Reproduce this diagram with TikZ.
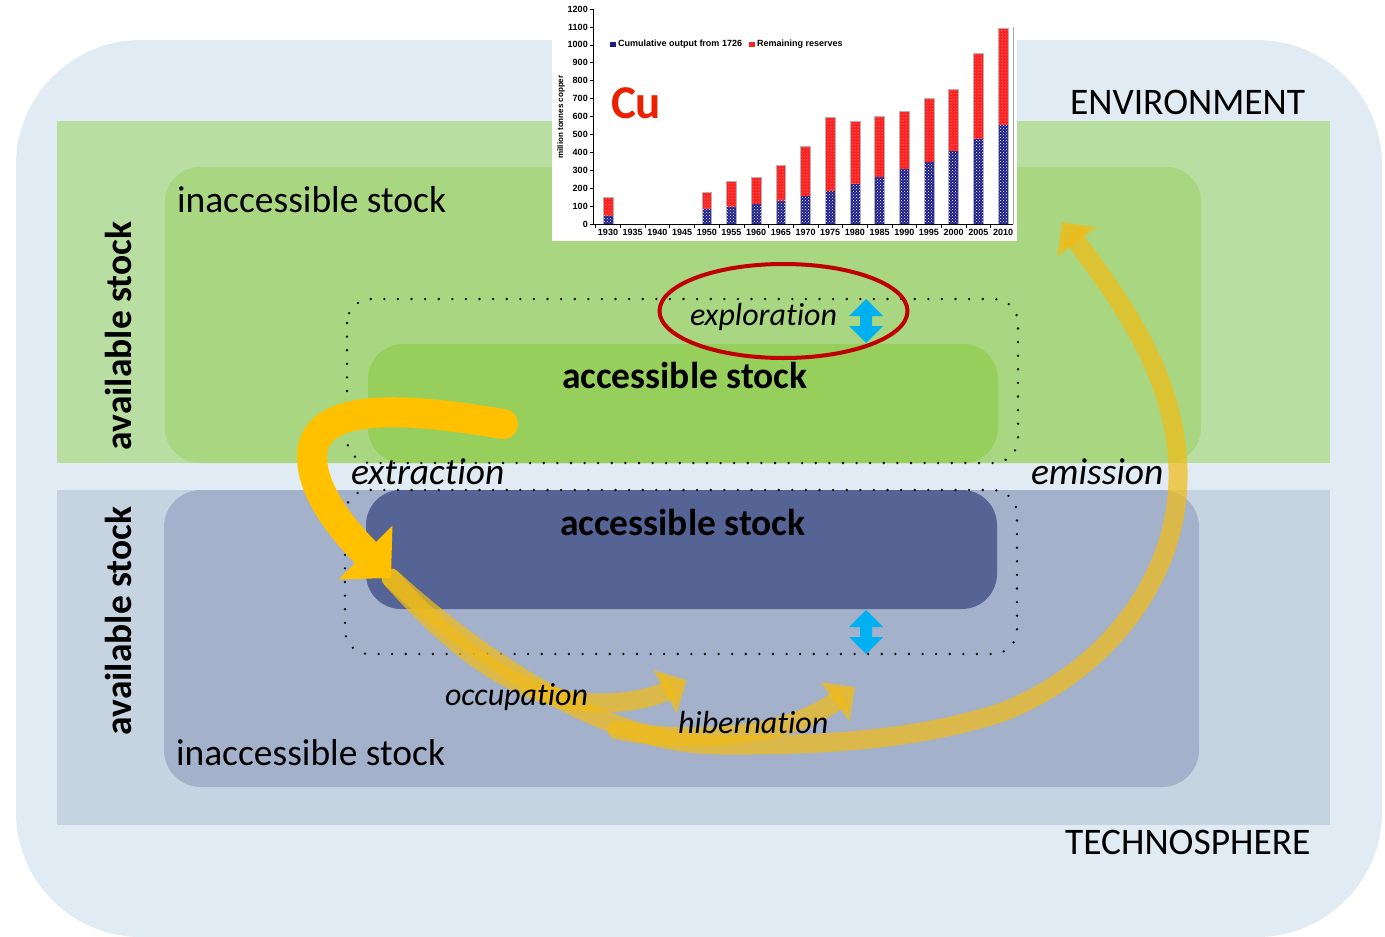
\documentclass[tikz,border=0pt]{standalone}
\usepackage{fontspec}
\setmainfont{Carlito}[Ligatures={NoCommon}]
\newfontfamily\chartfont{Liberation Sans}
\usetikzlibrary{arrows.meta,patterns,shapes.geometric}

\definecolor{skyback}{RGB}{224,235,243}
\definecolor{envband}{RGB}{185,222,161}
\definecolor{envinacc}{RGB}{169,214,128}
\definecolor{envacc}{RGB}{150,207,92}
\definecolor{techband}{RGB}{198,211,225}
\definecolor{techinacc}{RGB}{163,177,203}
\definecolor{techacc}{RGB}{85,100,149}
\definecolor{flowgold}{RGB}{255,192,0}
\definecolor{flowpale}{RGB}{240,188,24}
\definecolor{ringred}{RGB}{192,0,0}
\definecolor{arrowcyan}{RGB}{0,176,240}
\definecolor{cumblue}{RGB}{28,28,140}
\definecolor{resred}{RGB}{255,32,32}
\definecolor{cured}{RGB}{235,32,0}

\begin{document}
\begin{tikzpicture}
	[
	x=1pt, y=-1pt,
	every node/.style={inner sep=0pt, outer sep=0pt},
	big/.style={font=\fontsize{37.5}{40}\selectfont},
	bigbold/.style={font=\fontsize{37.5}{40}\selectfont\bfseries},
	flowlbl/.style={font=\fontsize{37.5}{40}\selectfont\itshape},
	smallflowlbl/.style={font=\fontsize{32}{34}\selectfont\itshape},
	dotline/.style={draw=black, line width=2.6pt, line cap=round, dash pattern=on 0pt off 13.6pt, rounded corners=24},
	mainflow/.style={draw=flowgold, line width=30pt, line cap=round, -{Triangle[length=36pt, width=74pt]}},
	paleflow/.style={draw=flowpale, opacity=0.72, line width=19pt, line cap=round, -{Triangle[length=25pt, width=48pt]}},
	updown/.pic={\fill[arrowcyan] (0,-22) -- (17,-5) -- (6,-5) -- (6,5) -- (17,5) -- (0,22) -- (-17,5) -- (-6,5) -- (-6,-5) -- (-17,-5) -- cycle;},
	ticklbl/.style={font=\chartfont\fontsize{9}{10}\selectfont\bfseries}
	]
		\useasboundingbox (0,0) rectangle (1385,937);
		
		% spheres
		\fill[skyback, rounded corners=125] (16,40) rectangle (1382,937);
		\fill[envband] (57,121) rectangle (1330,463);
		\fill[techband] (57,490) rectangle (1330,825);
		
		% inaccessible stocks
		\fill[envinacc, rounded corners=35] (165,167) rectangle (1201,463);
		\fill[techinacc, rounded corners=37] (164,490) rectangle (1199,787);
		
		% accessible stocks
		\fill[envacc, rounded corners=35] (368,344) rectangle (998,463);
		\fill[techacc, rounded corners=35] (366,490) rectangle (997,609);
		
		% available stock borders
		\draw[dotline] (347,299) rectangle (1018,463);
		\draw[dotline] (345,490) rectangle (1017,654);
		
		% exploration marks
		\pic at (866,321) {updown};
		\pic at (866,632) {updown};
		\node (ring) [ellipse, draw=ringred, line width=4pt, minimum width=248pt, minimum height=94pt] at (783.5,311) {};
		
		% flow ends
		\coordinate (ext-s) at (503,424);
		\coordinate (ext-e) at (391,578);
		\coordinate (occ-e) at (687,680);
		\coordinate (hib-s) at (617,730);
		\coordinate (hib-e) at (855,687);
		\coordinate (emi-e) at (1062,222);
		
		% flows
		\draw[paleflow] (ext-e) .. controls (470,650) and (600,745) .. (720,745) .. controls (850,746) and (930,735) .. (1000,713) .. controls (1100,675) and (1176,585) .. (1178,480) .. controls (1180,380) and (1120,300) .. (emi-e);
		\draw[paleflow] (ext-e) .. controls (450,645) and (520,703) .. (600,703) .. controls (630,703) and (655,697) .. (occ-e);
		\draw[paleflow] (hib-s) .. controls (700,745) and (790,735) .. (hib-e);
		\draw[mainflow] (ext-s) .. controls (430,412) and (314,395) .. (312,455) .. controls (311,495) and (350,537) .. (ext-e);
		
		% labels
		\node (env) [big, anchor=base west] at (1070,114) {ENVIRONMENT};
		\node (tech) [big, anchor=base west] at (1065,854) {TECHNOSPHERE};
		\node (inacc1) [big, anchor=base west] at (177,212) {inaccessible stock};
		\node (inacc2) [big, anchor=base west] at (176,765) {inaccessible stock};
		\node (avail1) [bigbold, anchor=base west, rotate=90] at (131,450) {available stock};
		\node (avail2) [bigbold, anchor=base west, rotate=90] at (131,735) {available stock};
		\node (acc1) [bigbold, anchor=base west] at (562,388) {accessible stock};
		\node (acc2) [bigbold, anchor=base west] at (560,535) {accessible stock};
		\node (explo) [smallflowlbl, anchor=base west] at (690,325) {exploration};
		\node (extr) [flowlbl, anchor=base west] at (351,484) {extraction};
		\node (emis) [flowlbl, anchor=base west] at (1031,484) {emission};
		\node (occu) [smallflowlbl, anchor=base west] at (445,705) {occupation};
		\node (hibe) [smallflowlbl, anchor=base west] at (678,733) {hibernation};
		
		% chart
		\fill[white] (552,0) rectangle (1017,241);
		\begin{scope}[shift={(608,224)}, x=24.69pt, y=0.17917pt]
			\foreach \i/\cum/\tot in {0/45/150, 4/85/175, 5/95/240, 6/110/262, 7/130/325, 8/155/435, 9/185/595, 10/225/575, 11/260/600, 12/305/630, 13/345/700, 14/405/750, 15/475/950, 16/555/1095}
			{
				\fill[resred] (\i-0.2,\cum) rectangle (\i+0.2,\tot);
				\fill[pattern=dots, pattern color=white!70!resred] (\i-0.2,\cum) rectangle (\i+0.2,\tot);
				\fill[cumblue] (\i-0.2,0) rectangle (\i+0.2,\cum);
				\fill[pattern=crosshatch dots, pattern color=white] (\i-0.2,0) rectangle (\i+0.2,\cum);
				\draw[gray!60, line width=0.6pt] (\i-0.2,0) -- (\i-0.2,\tot) -- (\i+0.2,\tot) -- (\i+0.2,0);
			}
			\draw[gray!70, line width=0.7pt] (16.4,0) -- (16.4,1100);
			\draw[line width=0.8pt] (-0.61,1200) -- (-0.61,0) -- (16.4,0);
			\foreach \v in {0,100,...,1200}
			{
				\draw[line width=0.6pt] (-0.71,\v) -- (-0.61,\v);
				\node (yt\v) [ticklbl, anchor=east] at (-0.82,\v) {\v};
			}
			\foreach \yr [count=\i from 0] in {1930,1935,...,2010}
			{
				\draw[line width=0.6pt] (\i-0.5,0) -- (\i-0.5,-20);
				\node (xt\i) [ticklbl, anchor=north] at (\i,-30) {\yr};
			}
		\end{scope}
		\fill[cumblue] (610,41.5) rectangle (615.5,47);
		\node (leg1) [ticklbl, anchor=west] at (618,44.5) {Cumulative output from 1726};
		\fill[resred] (749,41.5) rectangle (754.5,47);
		\node (leg2) [ticklbl, anchor=west] at (757,44.5) {Remaining reserves};
		\node (unit) [font=\chartfont\fontsize{8}{9}\selectfont\bfseries, rotate=90] at (561,117) {million tonnes copper};
		\node (cu) [font=\fontsize{47}{50}\selectfont\bfseries, text=cured, anchor=base west] at (611,118) {Cu};
	\end{tikzpicture}
\end{document}
